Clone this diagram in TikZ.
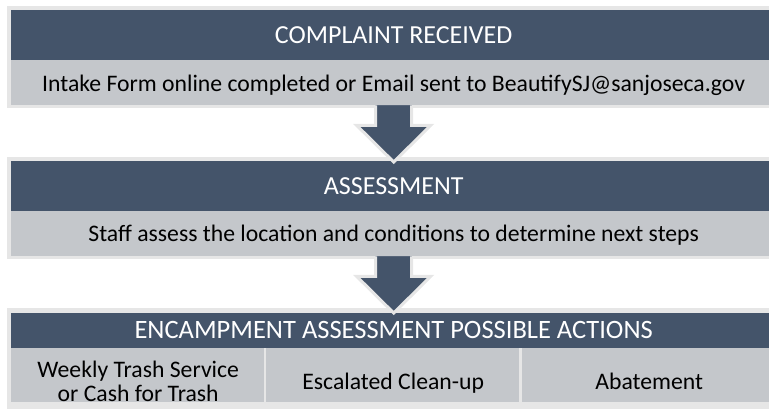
\documentclass[tikz,border=0pt]{standalone}
\usepackage{fontspec}
\setmainfont{Carlito}
\usetikzlibrary{calc}
\definecolor{bandDark}{RGB}{68,84,106}
\definecolor{bandGray}{RGB}{196,199,203}
\definecolor{rimLight}{RGB}{230,230,230}
\tikzset{
  rim/.style={fill=rimLight, draw=none, inner sep=0pt, anchor=north west},
  darkband/.style={fill=bandDark, draw=none, inner sep=0pt, anchor=north west},
  grayband/.style={fill=bandGray, draw=none, inner sep=0pt, anchor=north west},
  cellbox/.style={fill=bandGray, draw=none, inner sep=0pt, anchor=north west, minimum width=254pt, minimum height=54pt},
  txt/.style={inner sep=0pt, align=center, anchor=base, font=\fontsize{23.7}{24}\selectfont},
  ttl/.style={inner sep=0pt, anchor=base, text=white, font=\fontsize{26}{28}\selectfont},
  blockarrow/.style={fill=bandDark, draw=rimLight, line width=3pt, line join=miter},
  divider/.style={draw=rimLight, line width=2pt},
}
\begin{document}
\begin{tikzpicture}[x=1pt,y=-1pt]
\useasboundingbox (0,0) rectangle (769,409);
% box 1
\node[rim, minimum width=773pt, minimum height=102pt] (r1) at (7,6) {};
\node[darkband, minimum width=765pt, minimum height=50pt] (d1) at (11,10) {};
\node[grayband, minimum width=765pt, minimum height=45pt] (g1) at (11,60) {};
\node[ttl] (t1) at ([yshift=-8.3pt]d1.center) {COMPLAINT RECEIVED};
\node[txt] (b1) at ([yshift=-8.5pt]g1.center) {Intake Form online completed or Email sent to BeautifySJ@sanjoseca.gov};
% box 2
\node[rim, minimum width=773pt, minimum height=102pt] (r2) at (7,157) {};
\node[darkband, minimum width=765pt, minimum height=50pt] (d2) at (11,161) {};
\node[grayband, minimum width=765pt, minimum height=45pt] (g2) at (11,211) {};
\node[ttl] (t2) at ([yshift=-8.3pt]d2.center) {ASSESSMENT};
\node[txt] (b2) at ([yshift=-7.5pt]g2.center) {Staff assess the location and conditions to determine next steps};
% box 3
\node[rim, minimum width=773pt, minimum height=110pt] (r3) at (7,308) {};
\node[darkband, minimum width=765pt, minimum height=35pt] (d3) at (11,313) {};
\node[ttl, font=\fontsize{26.5}{28}\selectfont] (t3) at ([yshift=-8pt]d3.center) {ENCAMPMENT ASSESSMENT POSSIBLE ACTIONS};
\node[cellbox] (c1) at (11,348) {};
\node[cellbox] (c2) at (266,348) {};
\node[cellbox] (c3) at (522,348) {};
\draw[divider] (c1.north east) -- (c1.south east);
\draw[divider] (c2.north east) -- (c2.south east);
\node[txt] (x1) at ([yshift=-26pt]c1.center) {Weekly Trash Service\\or Cash for Trash};
\node[txt] (x2) at ([yshift=-14.5pt]c2.center) {Escalated Clean-up};
\node[txt] (x3) at ([yshift=-14.5pt]c3.center) {Abatement};
% arrows
\fill[bandDark] ($(g1.south)+(-18,0)$) -- ++(0,20) -- ++(-19,0) -- ($(d2.north)+(0,1)$) -- ($(g1.south)+(37,20)$) -- ++(-19,0) -- ++(0,-20) -- cycle;
\draw[blockarrow] ($(g1.south)+(-18,0)$) -- ++(0,20) -- ++(-19,0) -- ($(d2.north)+(0,1)$) -- ($(g1.south)+(37,20)$) -- ++(-19,0) -- ++(0,-20);
\fill[bandDark] ($(g2.south)+(-18,0)$) -- ++(0,20) -- ++(-19,0) -- ($(d3.north)+(0,0)$) -- ($(g2.south)+(37,20)$) -- ++(-19,0) -- ++(0,-20) -- cycle;
\draw[blockarrow] ($(g2.south)+(-18,0)$) -- ++(0,20) -- ++(-19,0) -- ($(d3.north)+(0,0)$) -- ($(g2.south)+(37,20)$) -- ++(-19,0) -- ++(0,-20);
\end{tikzpicture}
\end{document}
